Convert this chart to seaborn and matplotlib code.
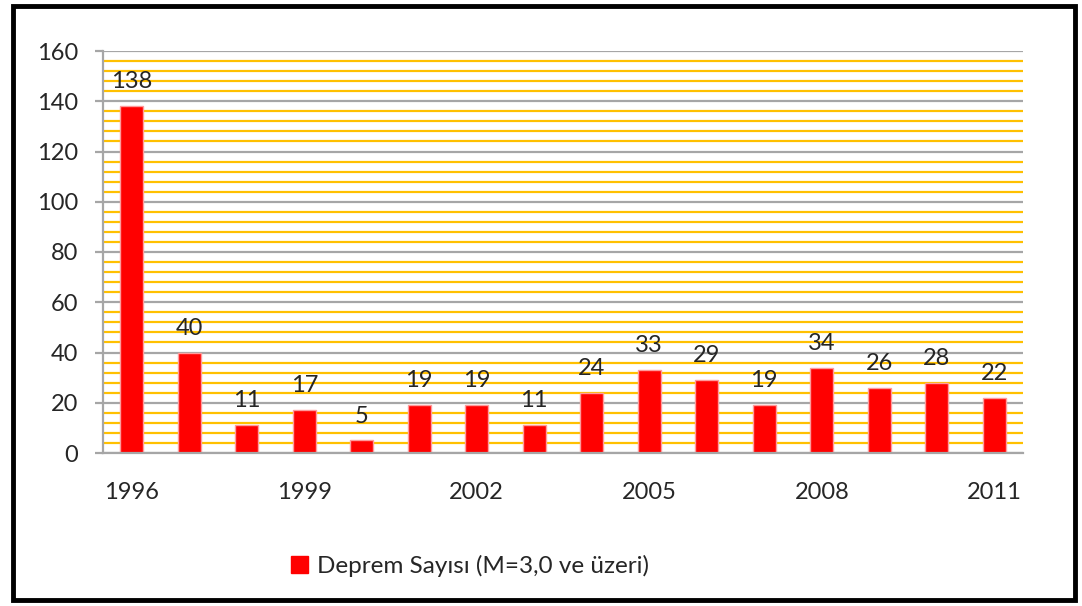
import seaborn as sns
import matplotlib.pyplot as plt
import pandas as pd
from matplotlib.ticker import MultipleLocator, FixedLocator
from matplotlib.patches import Rectangle, Patch

years = [str(y) for y in range(1996, 2012)]
counts = [138, 40, 11, 17, 5, 19, 19, 11, 24, 33, 29, 19, 34, 26, 28, 22]
shown_years = ['1996', '1999', '2002', '2005', '2008', '2011']
legend_label = 'Deprem Sayısı (M=3,0 ve üzeri)'

df = pd.DataFrame({'year': years, 'count': counts})

sns.set_style('white')
plt.rcParams['font.family'] = ['Lato', 'DejaVu Sans']

fig = plt.figure(figsize=(10.82, 6.06), dpi=100)
ax = fig.add_axes([103 / 1082, 153 / 606, 920 / 1082, 402 / 606])

sns.barplot(data=df, x='year', y='count', color='#FF0000', width=0.4,
            edgecolor='#FF9B9B', linewidth=1, saturation=1, ax=ax)

# Axis limits and grid:
ax.set_xlim(-0.5, 15.5)
ax.set_ylim(0, 160)
ax.yaxis.set_major_locator(MultipleLocator(20))
ax.yaxis.set_minor_locator(MultipleLocator(4))
ax.grid(which='minor', axis='y', color='#FFC000', linewidth=1.6)
ax.grid(which='major', axis='y', color='#A6A6A6', linewidth=1.6)
ax.set_axisbelow(True)

# Spines:
for side in ['top', 'right']:
    ax.spines[side].set_visible(False)
for side in ['left', 'bottom']:
    ax.spines[side].set_color('#A6A6A6')
    ax.spines[side].set_linewidth(1.6)

# Ticks:
ax.set_xticks(range(len(years)))
ax.set_xticklabels([y if y in shown_years else '' for y in years])
ax.xaxis.set_minor_locator(FixedLocator([i - 0.5 for i in range(len(years) + 1)]))
ax.tick_params(axis='x', which='major', length=0, pad=21, labelsize=17)
ax.tick_params(axis='x', which='minor', length=6, width=1.6, color='#A6A6A6', direction='out')
ax.tick_params(axis='y', which='major', length=6, width=1.6, color='#A6A6A6',
               direction='out', pad=12, labelsize=17, left=True)
ax.tick_params(axis='y', which='minor', length=0)
ax.set_xlabel('')
ax.set_ylabel('')

# Value labels:
ax.bar_label(ax.containers[0], padding=10, fontsize=17)

# Legend:
fig.legend(handles=[Patch(facecolor='#FF0000', edgecolor='#FF0000')], labels=[legend_label],
           loc='center left', bbox_to_anchor=(291 / 1082, 1 - 566 / 606),
           frameon=False, fontsize=17.5, borderpad=0, borderaxespad=0,
           handlelength=0.7, handleheight=0.7, handletextpad=0.35)

# Outer border:
fig.patches.append(Rectangle((13 / 1082, 6 / 606), 1062 / 1082, 594 / 606,
                             transform=fig.transFigure, fill=False,
                             edgecolor='black', linewidth=3.5))

fig.savefig('out.png', dpi=100)
